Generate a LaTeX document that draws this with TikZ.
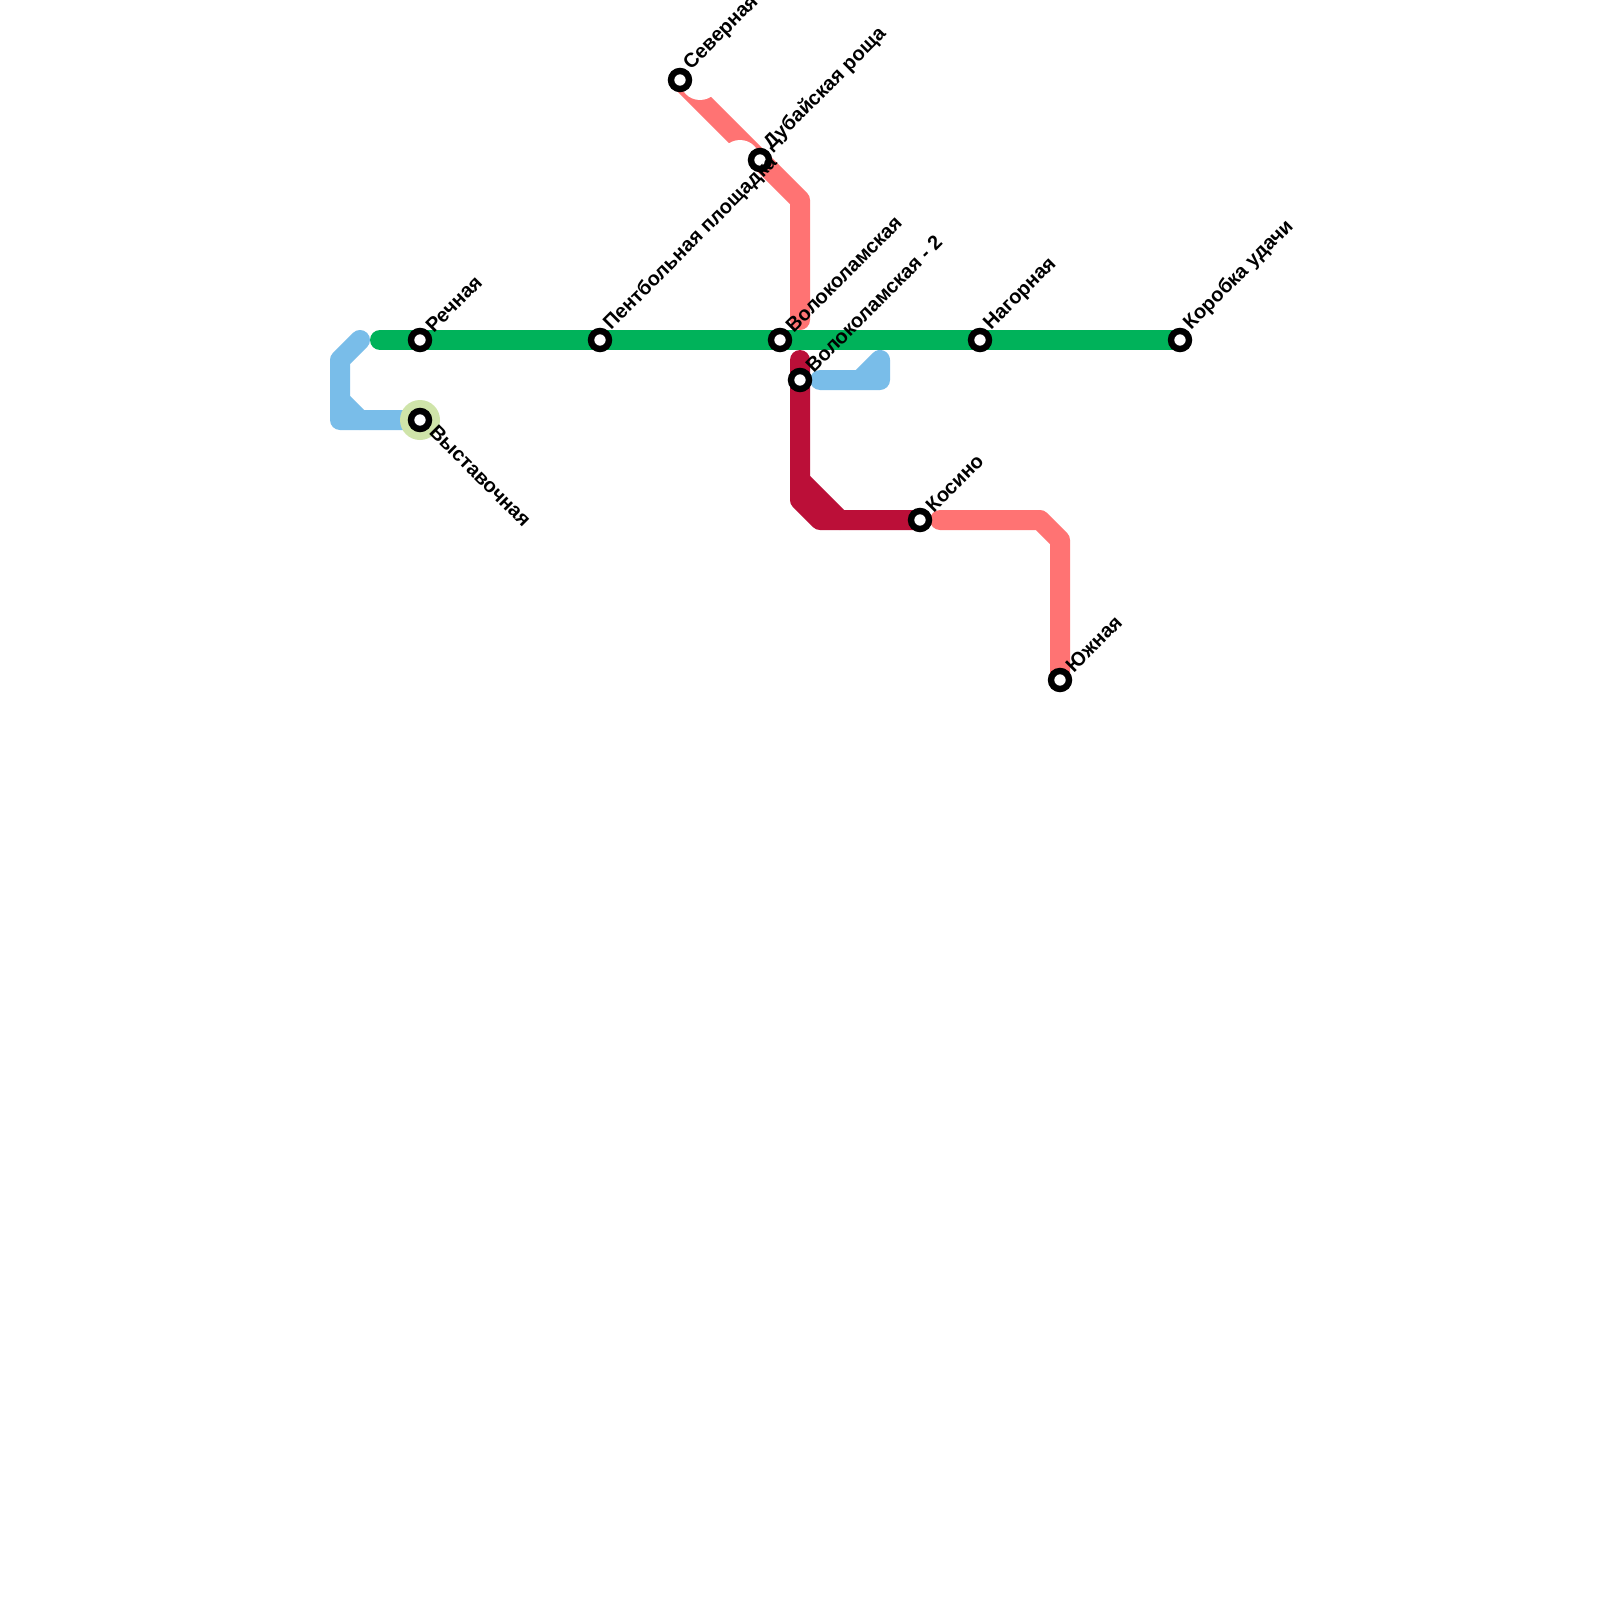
\documentclass[tikz,border=0pt]{standalone}
\usepackage{fontspec}
\usetikzlibrary{calc}
\setmainfont{Liberation Sans}
\definecolor{lgreen}{HTML}{00B25A}
\definecolor{lblue}{HTML}{79BDE9}
\definecolor{lred}{HTML}{BB0F38}
\definecolor{lpink}{HTML}{FF7373}
\definecolor{lhalo}{HTML}{CFE4A9}
\tikzset{
  x=0.5pt,y=-0.5pt,
  mline/.style={line width=10pt,line cap=round,line join=round},
  stn/.style={circle,draw=black,fill=white,line width=3.2pt,minimum size=9pt,inner sep=0pt,outer sep=0pt},
  lab/.style={font=\bfseries\fontsize{10}{10}\selectfont,rotate=45,anchor=south west,inner sep=0pt,text=black},
  labd/.style={font=\bfseries\fontsize{10}{10}\selectfont,rotate=-45,anchor=north west,inner sep=0pt,text=black}
}
\begin{document}
\begin{tikzpicture}
\useasboundingbox (0,0) rectangle (1600,1600);
\fill[white] (0,0) rectangle (1600,1600);
% named coordinates of the stations
\coordinate (cSever) at (680,80);
\coordinate (cDubai) at (760,160);
\coordinate (cRech) at (420,340);
\coordinate (cVyst) at (420,420);
\coordinate (cPent) at (600,340);
\coordinate (cVol) at (780,340);
\coordinate (cVolB) at (800,380);
\coordinate (cNag) at (980,340);
\coordinate (cKor) at (1180,340);
\coordinate (cKos) at (920,520);
\coordinate (cYuzh) at (1060,680);
% pink line
\draw[mline,lpink] (cSever) -- (800,200) -- (800,320);
\fill[white] (700,80) circle (20);
\fill[white] (740,160) circle (20);
\draw[mline,lpink] (940,520) -- (1040,520) -- (1060,540) -- (cYuzh);
% blue line
\draw[mline,lblue] (360,340) -- (340,360) -- (340,420) -- (cVyst);
\draw[mline,lblue] (340,400) -- (360,420);
\draw[mline,lblue] (820,380) -- (880,380) -- (880,360) -- (860,380);
% red line
\draw[mline,lred] (800,360) -- (800,500) -- (820,520) -- (cKos);
\draw[mline,lred] (800,480) -- (840,520);
% green line
\draw[mline,lgreen] (380,340) -- (cKor);
% halo
\fill[lhalo] (cVyst) circle (20);
% stations
\node[stn] (sSever) at (cSever) {};
\node[stn] (sDubai) at (cDubai) {};
\node[stn] (sRech) at (cRech) {};
\node[stn] (sVyst) at (cVyst) {};
\node[stn] (sPent) at (cPent) {};
\node[stn] (sVol) at (cVol) {};
\node[stn] (sVolB) at (cVolB) {};
\node[stn] (sNag) at (cNag) {};
\node[stn] (sKor) at (cKor) {};
\node[stn] (sKos) at (cKos) {};
\node[stn] (sYuzh) at (cYuzh) {};
% labels
\node[lab] (tSever) at ($(cSever)+(14,-6)$) {Северная};
\node[lab] (tDubai) at ($(cDubai)+(14,-6)$) {Дубайская роща};
\node[lab] (tRech) at ($(cRech)+(14,-6)$) {Речная};
\node[labd] (tVyst) at ($(cVyst)+(18,3)$) {Выставочная};
\node[lab] (tPent) at ($(cPent)+(14,-6)$) {Пентбольная площадка};
\node[lab] (tVol) at ($(cVol)+(14,-6)$) {Волоколамская};
\node[lab] (tVolB) at ($(cVolB)+(14,-6)$) {Волоколамская - 2};
\node[lab] (tNag) at ($(cNag)+(14,-6)$) {Нагорная};
\node[lab] (tKor) at ($(cKor)+(14,-6)$) {Коробка удачи};
\node[lab] (tKos) at ($(cKos)+(14,-6)$) {Косино};
\node[lab] (tYuzh) at ($(cYuzh)+(14,-6)$) {Южная};
\end{tikzpicture}
\end{document}
